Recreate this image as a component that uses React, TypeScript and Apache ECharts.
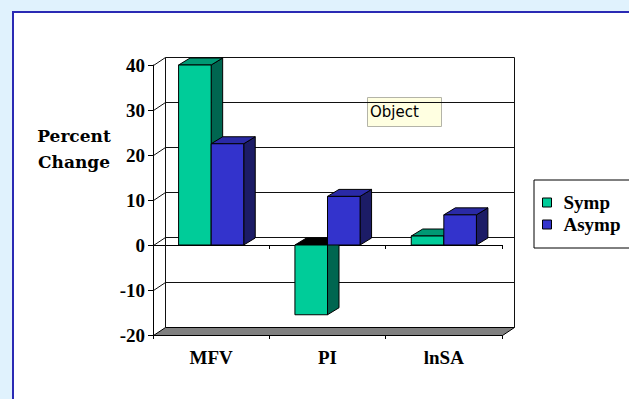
import React, { useEffect, useRef } from 'react';
import * as echarts from 'echarts';

// Percent change per measure, symptomatic vs asymptomatic
const categories = ['MFV', 'PI', 'lnSA'];
const seriesNames = ['Symp', 'Asymp'];
const sympValues = [40, -15.5, 2];
const asympValues = [22.5, 10.8, 6.7];
const yTicks = [-20, -10, 0, 10, 20, 30, 40];

// 3D look: offset of the back wall and of each column's depth
const WALL_DX = 12;
const WALL_DY = -8;
const BAR_DX = 11.5;
const BAR_DY = -7;
const BAR_RATIO = 0.28;

const SERIF = "'Liberation Serif', 'Times New Roman', serif";

const crisp = (v: number) => Math.round(v) + 0.5;

function barRenderer(slot: number, front: string, side: string, top: string, negTop: string) {
  return (params: any, api: any) => {
    const ci = api.value(0);
    const v = api.value(1);
    const base = api.coord([ci, 0]);
    const tip = api.coord([ci, v]);
    const w = api.size([1, 0])[0] * BAR_RATIO;
    const x0 = base[0] + (slot - 1) * w;
    const x1 = x0 + w;
    const yTop = Math.min(base[1], tip[1]);
    const yBot = Math.max(base[1], tip[1]);
    const edge = { stroke: '#000', lineWidth: 1 };
    return {
      type: 'group',
      children: [
        {
          type: 'polygon',
          shape: { points: [[x1, yTop], [x1 + BAR_DX, yTop + BAR_DY], [x1 + BAR_DX, yBot + BAR_DY], [x1, yBot]] },
          style: { fill: side, ...edge },
        },
        {
          type: 'polygon',
          shape: { points: [[x0, yTop], [x1, yTop], [x1 + BAR_DX, yTop + BAR_DY], [x0 + BAR_DX, yTop + BAR_DY]] },
          style: { fill: v < 0 ? negTop : top, ...edge },
        },
        {
          type: 'rect',
          shape: { x: x0, y: yTop, width: w, height: yBot - yTop },
          style: { fill: front, ...edge },
        },
      ],
    };
  };
}

function frameRenderer(params: any, api: any) {
  const cs = params.coordSys;
  const v = api.value(1);
  const y = crisp(api.coord([0, v])[1]);
  const L = crisp(cs.x);
  const R = crisp(cs.x + cs.width);
  const yMin = yTicks[0];
  const yMax = yTicks[yTicks.length - 1];
  const line = { stroke: '#111', lineWidth: 1 };
  const children: any[] = [];
  if (v === yMin) {
    children.push({
      type: 'polygon',
      shape: { points: [[L, y], [R, y], [R + WALL_DX, y + WALL_DY], [L + WALL_DX, y + WALL_DY]] },
      style: { fill: '#808080', stroke: '#000', lineWidth: 1 },
    });
  } else {
    children.push({
      type: 'line',
      shape: { x1: L, y1: y, x2: L + WALL_DX, y2: y + WALL_DY },
      style: line,
    });
    children.push({
      type: 'line',
      shape: { x1: L + WALL_DX, y1: y + WALL_DY, x2: R + WALL_DX, y2: y + WALL_DY },
      style: line,
    });
  }
  if (v === yMax) {
    const yb = crisp(api.coord([0, yMin])[1]);
    children.push({
      type: 'line',
      shape: { x1: L + WALL_DX, y1: y + WALL_DY, x2: L + WALL_DX, y2: yb + WALL_DY },
      style: line,
    });
    children.push({
      type: 'line',
      shape: { x1: R + WALL_DX, y1: y + WALL_DY, x2: R + WALL_DX, y2: yb + WALL_DY },
      style: line,
    });
  }
  return { type: 'group', children };
}

export default function App() {
  const ref = useRef<HTMLDivElement>(null);

  useEffect(() => {
    if (!ref.current) return;
    const chart = echarts.init(ref.current, null, { renderer: 'svg' });
    const labelFont = { fontFamily: SERIF, fontWeight: 'bold' as const, fontSize: 19, color: '#000' };

    chart.setOption({
      animation: false,
      backgroundColor: '#e0f2fd',
      grid: { left: 153, top: 65, width: 349, height: 270 },
      xAxis: [
        {
          type: 'category',
          data: categories,
          position: 'bottom',
          axisLine: { onZero: false, lineStyle: { color: '#000', width: 1 } },
          axisTick: { show: true, length: 4, lineStyle: { color: '#000' } },
          axisLabel: { ...labelFont, margin: 13 },
          splitLine: { show: false },
        },
        {
          type: 'category',
          data: categories,
          position: 'bottom',
          axisLine: { onZero: true, lineStyle: { color: '#000', width: 1 } },
          axisTick: { show: true, length: 4, lineStyle: { color: '#000' } },
          axisLabel: { show: false },
          splitLine: { show: false },
        },
      ],
      yAxis: {
        type: 'value',
        min: yTicks[0],
        max: yTicks[yTicks.length - 1],
        interval: 10,
        axisLine: { show: true, lineStyle: { color: '#000', width: 1 } },
        axisTick: { show: true, length: 5, lineStyle: { color: '#000' } },
        axisLabel: { ...labelFont, margin: 8 },
        splitLine: { show: false },
      },
      legend: {
        orient: 'vertical',
        left: 534,
        top: 180,
        padding: [13, 10, 14, 8],
        itemWidth: 9,
        itemHeight: 9,
        itemGap: 3,
        icon: 'rect',
        borderColor: '#000',
        borderWidth: 1,
        backgroundColor: '#fff',
        selectedMode: false,
        itemStyle: { borderColor: '#000', borderWidth: 1 },
        textStyle: { ...labelFont, padding: [0, 0, 0, 7] },
        data: seriesNames,
      },
      graphic: [
        {
          type: 'rect',
          z: -10,
          shape: { x: 13, y: 12, width: 700, height: 500 },
          style: { fill: '#fff', stroke: '#2a2ab4', lineWidth: 2 },
        },
        {
          type: 'text',
          z: 10,
          x: 74,
          y: 123,
          style: {
            text: 'Percent\nChange',
            fontFamily: "'DejaVu Serif', serif",
            fontWeight: 'bold',
            fontSize: 17,
            lineHeight: 26,
            align: 'center',
            verticalAlign: 'top',
            fill: '#000',
          },
        },
        {
          type: 'group',
          z: 100,
          children: [
            {
              type: 'rect',
              shape: { x: 367.5, y: 97.5, width: 74, height: 29 },
              style: { fill: '#ffffe1', stroke: '#b4b4a8', lineWidth: 1 },
            },
            {
              type: 'text',
              x: 370,
              y: 112,
              style: {
                text: 'Object',
                fontFamily: "'DejaVu Sans', sans-serif",
                fontSize: 15,
                verticalAlign: 'middle',
                fill: '#000',
              },
            },
          ],
        },
      ],
      series: [
        {
          type: 'custom',
          name: 'frame',
          z: 1,
          silent: true,
          renderItem: frameRenderer,
          encode: { x: 0, y: 1 },
          data: yTicks.map((v) => [0, v]),
        },
        {
          type: 'custom',
          name: seriesNames[0],
          z: 3,
          itemStyle: { color: '#00cc99' },
          renderItem: barRenderer(0, '#00cc99', '#006650', '#009974', '#000'),
          encode: { x: 0, y: 1 },
          data: sympValues.map((v, i) => [i, v]),
        },
        {
          type: 'custom',
          name: seriesNames[1],
          z: 4,
          itemStyle: { color: '#3333cc' },
          renderItem: barRenderer(1, '#3333cc', '#1c1c66', '#2a2aa6', '#000'),
          encode: { x: 0, y: 1 },
          data: asympValues.map((v, i) => [i, v]),
        },
      ],
    });

    return () => chart.dispose();
  }, []);

  return (
    <div
      ref={ref}
      style={{ position: 'fixed', left: 0, top: 0, width: 629, height: 399 }}
    />
  );
}
